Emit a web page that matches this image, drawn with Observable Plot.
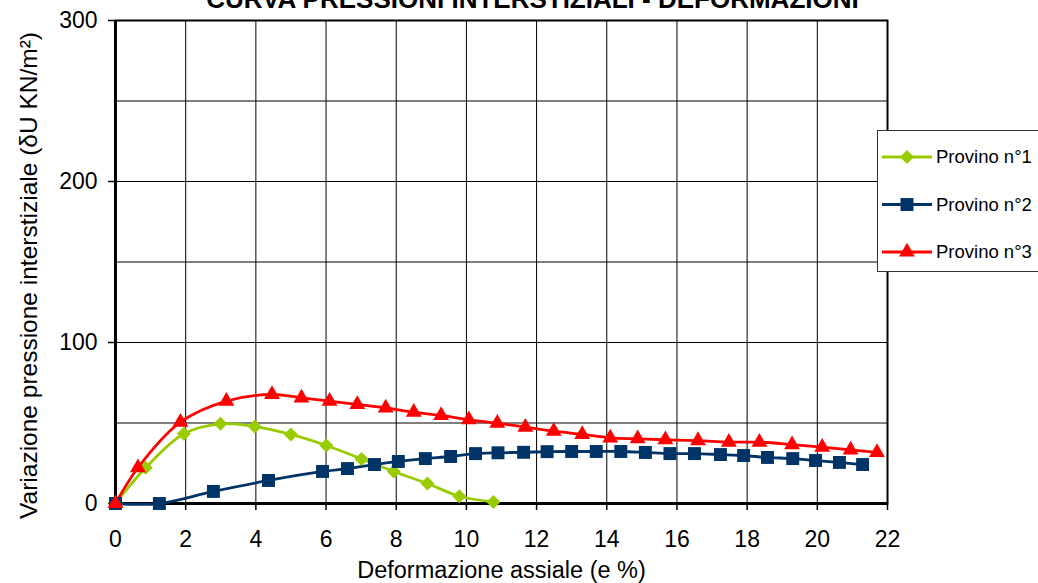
<!DOCTYPE html>
<html>
<head>
<meta charset="utf-8">
<script src="https://cdn.jsdelivr.net/npm/d3@7"></script>
<script src="https://cdn.jsdelivr.net/npm/@observablehq/plot@0.6"></script>
<style>
  html, body { margin: 0; padding: 0; background: #fff; }
  #chart svg { display: block; }
</style>
</head>
<body>
<div id="chart"></div>
<script>
// ---- Data ----
const titleText = "CURVA PRESSIONI INTERSTIZIALI - DEFORMAZIONI";
const xLabel = "Deformazione assiale (e %)";
const yLabel = "Variazione pressione interstiziale (δU KN/m²)";
const seriesNames = ["Provino n°1", "Provino n°2", "Provino n°3"];

const xTicks = [0, 2, 4, 6, 8, 10, 12, 14, 16, 18, 20, 22];
const yTicks = [0, 100, 200, 300];
const yGrid = [50, 100, 150, 200, 250];

const p1x = [0, 0.86, 1.95, 2.99, 3.97, 5.0, 6.01, 7.01, 7.93, 8.89, 9.8, 10.77];
const p1y = [0, 22.2, 43.3, 49.5, 47.8, 42.9, 36.0, 27.7, 19.9, 12.4, 4.5, 1.0];

const p2x = [0, 1.25, 2.79, 4.36, 5.9, 6.61, 7.38, 8.06, 8.83, 9.55, 10.26, 10.9, 11.63, 12.3, 13.0, 13.7, 14.4, 15.1, 15.8, 16.5, 17.24, 17.9, 18.58, 19.3, 19.95, 20.63, 21.29];
const p2y = [0, 0, 7.5, 14.3, 19.9, 21.7, 24.2, 26.1, 27.9, 29.2, 31.0, 31.5, 31.8, 32.2, 32.3, 32.3, 32.3, 31.7, 31.0, 31.0, 30.4, 29.8, 28.6, 27.9, 26.7, 25.5, 24.2];

const p3x = [0, 0.64, 1.85, 3.16, 4.46, 5.3, 6.1, 6.89, 7.7, 8.5, 9.28, 10.07, 10.88, 11.68, 12.49, 13.3, 14.1, 14.88, 15.67, 16.6, 17.48, 18.35, 19.28, 20.14, 20.95, 21.7];
const p3y = [0, 22.2, 50.5, 63.6, 67.7, 65.6, 63.6, 61.5, 59.4, 56.7, 54.7, 52.0, 49.9, 47.4, 44.9, 42.9, 40.8, 40.2, 39.6, 39.1, 38.1, 38.1, 36.6, 35.0, 33.3, 31.7];

const colors = ["#99CC00", "#003366", "#FF0000"];
const symbols = ["diamond2", "square", "triangle"];
const radii = [6.3, 7.3, 5.9];

const toRows = (xs, ys) => xs.map((x, i) => ({x, y: ys[i]}));
const series = [toRows(p1x, p1y), toRows(p2x, p2y), toRows(p3x, p3y)];

const font = "'Liberation Sans', Arial, Helvetica, sans-serif";

const marks = [
  Plot.gridX(xTicks, {stroke: "#000", strokeOpacity: 1, strokeWidth: 1}),
  Plot.gridY(yGrid, {stroke: "#000", strokeOpacity: 1, strokeWidth: 1}),
  Plot.frame({stroke: "#000", strokeWidth: 2}),
  Plot.ruleX([0], {stroke: "#000", strokeWidth: 3}),
  Plot.ruleY([0], {stroke: "#000", strokeWidth: 3}),
  Plot.axisX(xTicks, {tickSize: 7, tickPadding: 20, fontSize: 23, label: null, stroke: "#000", strokeWidth: 1.5}),
  Plot.axisY(yTicks, {tickSize: 7, tickPadding: 11, fontSize: 23, label: null, stroke: "#000", strokeWidth: 1.5}),
];
series.forEach((rows, i) => {
  marks.push(Plot.line(rows, {x: "x", y: "y", stroke: colors[i], strokeWidth: 2.8, curve: "catmull-rom"}));
});
series.forEach((rows, i) => {
  marks.push(Plot.dot(rows, {x: "x", y: "y", symbol: symbols[i], r: radii[i], fill: colors[i], stroke: "none"}));
});
marks.push(
  Plot.text([titleText], {text: d => d, frameAnchor: "top", dx: 31, dy: -13, lineAnchor: "bottom", fontSize: 26, fontWeight: "bold", fill: "#000"}),
  Plot.text([xLabel], {text: d => d, frameAnchor: "bottom", dy: 74, lineAnchor: "bottom", fontSize: 23.5, fill: "#000"}),
  Plot.text([yLabel], {text: d => d, frameAnchor: "left", rotate: -90, dx: -86, dy: 13.5, textAnchor: "middle", lineAnchor: "middle", fontSize: 24.5, fill: "#000"})
);

const chart = Plot.plot({
  width: 1038,
  height: 583,
  marginLeft: 115,
  marginRight: 151,
  marginTop: 20,
  marginBottom: 80,
  x: {domain: [0, 22]},
  y: {domain: [0, 300]},
  style: {fontFamily: font, fontSize: "22px", color: "#000", background: "#fff", overflow: "visible"},
  marks
});
document.getElementById("chart").appendChild(chart);

// ---- Legend ----
const svg = d3.select(chart);
const lg = svg.append("g").attr("font-family", font).attr("text-anchor", "start");
lg.append("rect").attr("x", 877.5).attr("y", 130.5).attr("width", 170).attr("height", 141)
  .attr("fill", "#fff").attr("stroke", "#333").attr("stroke-width", 1);
const d3Symbols = [d3.symbolDiamond2, d3.symbolSquare, d3.symbolTriangle];
seriesNames.forEach((name, i) => {
  const cy = 157 + i * 47.5;
  lg.append("line").attr("x1", 882).attr("x2", 932).attr("y1", cy).attr("y2", cy)
    .attr("stroke", colors[i]).attr("stroke-width", 2.8);
  lg.append("path").attr("d", d3.symbol(d3Symbols[i], Math.PI * radii[i] * radii[i])())
    .attr("transform", `translate(907,${cy})`).attr("fill", colors[i]);
  lg.append("text").attr("x", 936).attr("y", cy).attr("dy", "0.35em")
    .attr("text-anchor", "start")
    .attr("font-size", 18.5).attr("fill", "#000").text(name);
});
</script>
</body>
</html>
